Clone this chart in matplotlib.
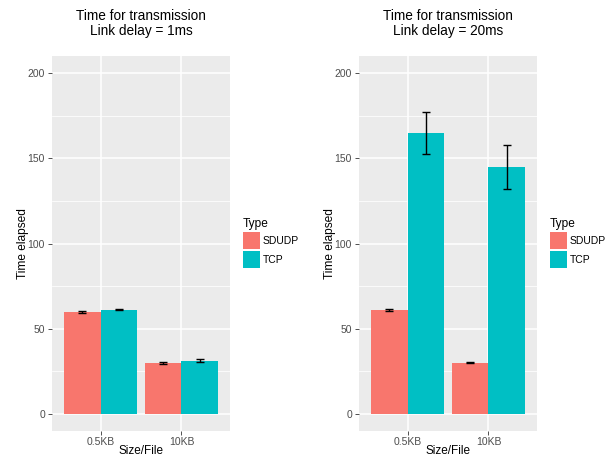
import numpy as np
import matplotlib
matplotlib.use("Agg")
import matplotlib.pyplot as plt
from matplotlib.patches import Patch

plt.rcParams["font.family"] = ["Liberation Sans", "DejaVu Sans"]

sizes = ["0.5KB", "10KB"]
types = ["SDUDP", "TCP"]
colors = ["#F8766D", "#00BFC4"]

# panel 1: link delay 1ms
mean_1ms_sdudp = [60.0, 30.0]
err_1ms_sdudp = [0.5, 0.4]
mean_1ms_tcp = [61.2, 31.3]
err_1ms_tcp = [0.5, 0.9]

# panel 2: link delay 20ms
mean_20ms_sdudp = [61.0, 30.0]
err_20ms_sdudp = [0.5, 0.3]
mean_20ms_tcp = [164.8, 144.8]
err_20ms_tcp = [12.3, 12.8]

titles = ["Time for transmission\nLink delay = 1ms", "Time for transmission\nLink delay = 20ms"]

W, H = 616, 458
fig = plt.figure(figsize=(W / 100, H / 100), dpi=100)


def px(x0, y0, x1, y1):
    return [x0 / W, 1 - y1 / H, (x1 - x0) / W, (y1 - y0) / H]


def panel(ax, means, errs, title, legx):
    ax.set_facecolor("#EBEBEB")
    for s in ax.spines.values():
        s.set_visible(False)
    x = np.arange(len(sizes))
    bw = 0.45
    for i, (m, e) in enumerate(zip(means, errs)):
        xs = x + (i - 0.5) * bw
        ax.bar(xs, m, width=bw, color=colors[i], zorder=3)
        ax.errorbar(xs, m, yerr=e, fmt="none", ecolor="black", elinewidth=1.0,
                    capsize=3, capthick=1.0, zorder=4)
    ax.set_xlim(-0.6, 1.6)
    ax.set_ylim(-10, 210)
    ax.set_yticks([0, 50, 100, 150, 200])
    ax.set_yticks([25, 75, 125, 175], minor=True)
    ax.set_xticks(x)
    ax.set_xticklabels(sizes)
    ax.grid(which="major", color="white", linewidth=1.1, zorder=0)
    ax.grid(which="minor", axis="y", color="white", linewidth=0.55, zorder=0)
    ax.set_axisbelow(True)
    ax.tick_params(which="major", length=3, width=0.6, color="#333333",
                   labelsize=7.5, labelcolor="#4D4D4D", pad=2)
    ax.tick_params(axis="x", pad=1.5)
    ax.tick_params(which="minor", length=0)
    ax.set_xlabel("Size/File", fontsize=8.5, labelpad=-1.5)
    ax.set_ylabel("Time elapsed", fontsize=8.6, labelpad=-1)
    ax.set_title(title, fontsize=9.8, pad=15, linespacing=1.1)
    handles = [Patch(facecolor=c, edgecolor="none") for c in colors]
    leg = ax.legend(handles, types, title="Type", loc="upper left",
                    bbox_to_anchor=(legx / W, 1 - 218 / H),
                    bbox_transform=fig.transFigure, frameon=False,
                    fontsize=7.5, title_fontsize=8.6, handlelength=1.62,
                    handleheight=2.1, labelspacing=0.2, handletextpad=0.3,
                    borderpad=0, borderaxespad=0)
    leg._legend_box.align = "left"


ax1 = fig.add_axes(px(52, 56, 230, 431))
panel(ax1, [mean_1ms_sdudp, mean_1ms_tcp], [err_1ms_sdudp, err_1ms_tcp], titles[0], 243)
ax2 = fig.add_axes(px(359, 56, 537, 431))
panel(ax2, [mean_20ms_sdudp, mean_20ms_tcp], [err_20ms_sdudp, err_20ms_tcp], titles[1], 550)

fig.savefig("out.png", dpi=100)
